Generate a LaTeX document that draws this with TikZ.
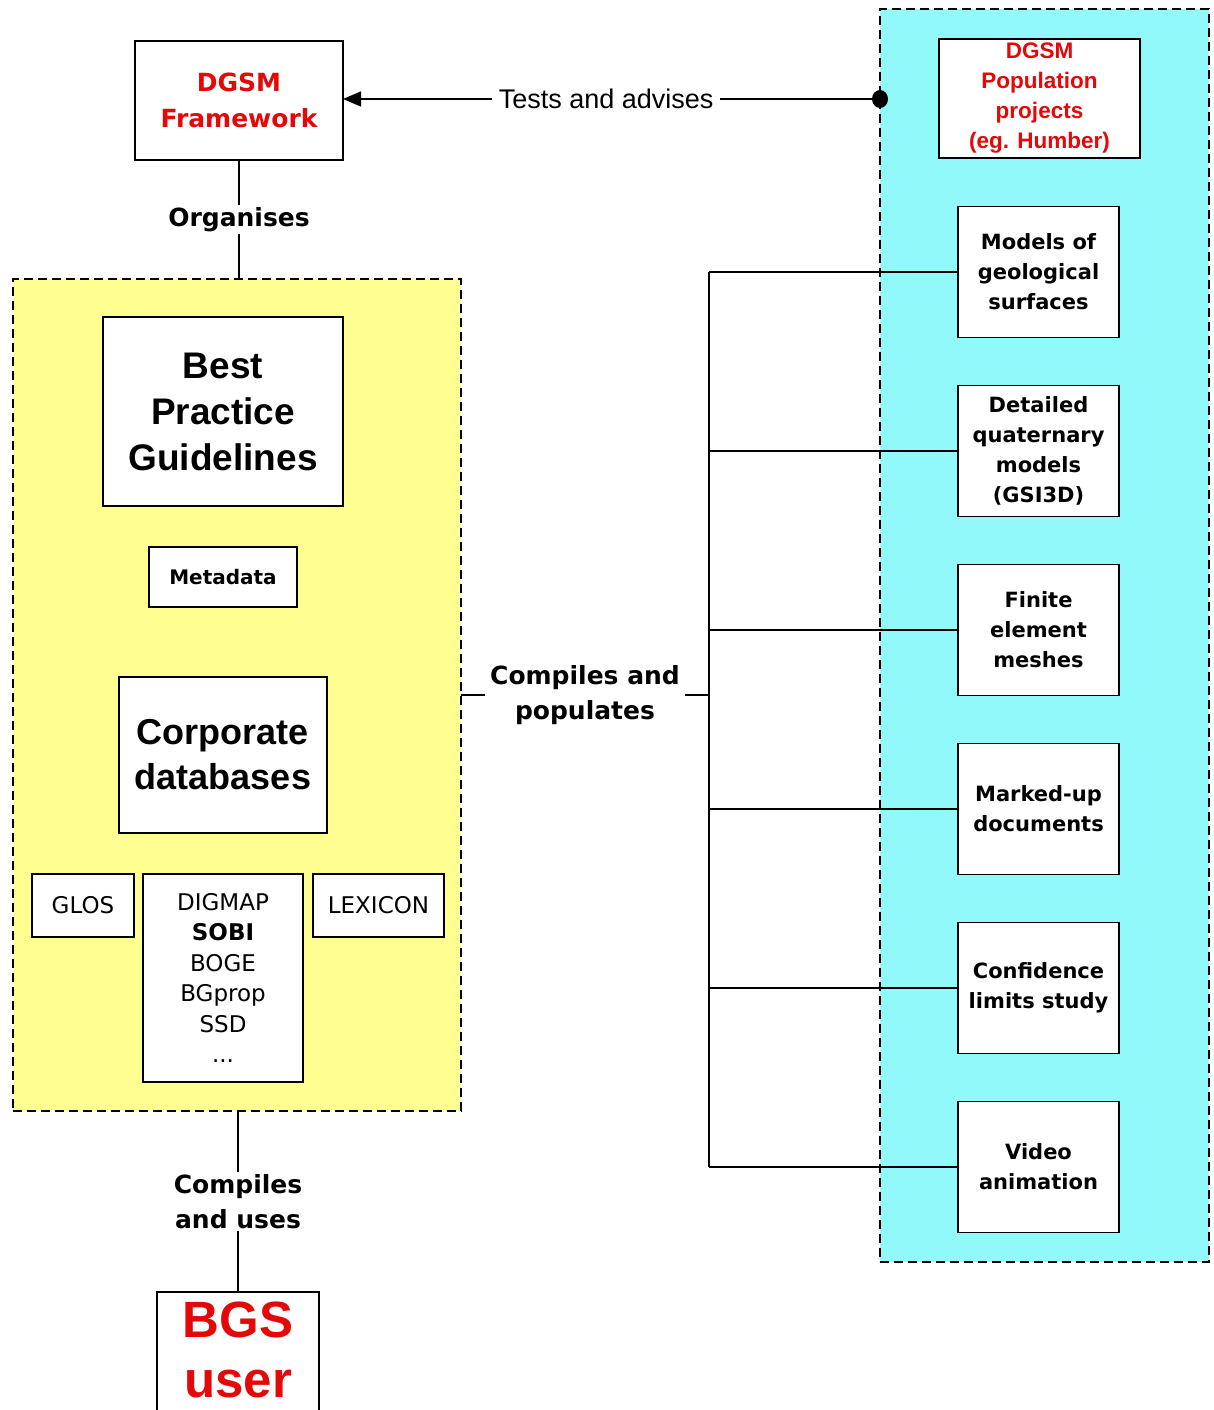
\documentclass[tikz,border=0pt]{standalone}
\usepackage{fontspec}
\usetikzlibrary{arrows.meta}
\newfontfamily\dv{DejaVu Sans}
\newfontfamily\ls{Liberation Sans}
\definecolor{regyellow}{RGB}{255,255,145}
\definecolor{regcyan}{RGB}{145,249,249}
\definecolor{dgsmred}{RGB}{228,8,8}
\tikzset{
  box/.style={draw, fill=white, line width=1.3pt, outer sep=0pt, inner sep=0pt, align=center},
  region/.style={draw, dash pattern=on 9pt off 5pt, line width=1.3pt, outer sep=0pt, inner sep=0pt},
  rbox/.style={box, minimum width=161pt, minimum height=131pt, font=\dv\bfseries\fontsize{21}{30}\selectfont},
  lbl/.style={fill=white, align=center, inner sep=2pt, font=\dv\bfseries\fontsize{25}{35}\selectfont},
  conn/.style={line width=1.5pt}
}
\begin{document}
\begin{tikzpicture}[x=1pt,y=-1pt]
\useasboundingbox (0,0) rectangle (1213,1410);
% regions
\node[region, fill=regyellow, minimum width=448pt, minimum height=832pt] (yr) at (237,695) {};
\node[region, fill=regcyan, minimum width=329pt, minimum height=1253pt] (cr) at (1044.5,635.5) {};
% top boxes
\node[box, minimum width=208pt, minimum height=119pt, text=dgsmred, font=\dv\bfseries\fontsize{25}{36}\selectfont] (fw) at (239,100.5) {DGSM\\Framework};
\node[box, minimum width=201pt, minimum height=119pt, text=dgsmred, font=\ls\bfseries\fontsize{22.5}{30}\selectfont] (pop) at (1039.5,98.5) {DGSM\\Population\\projects\\(eg. Humber)};
% yellow contents
\node[box, minimum width=240pt, minimum height=189pt, font=\ls\bfseries\fontsize{37}{46}\selectfont] (bpg) at (223,411.5) {Best\\Practice\\Guidelines};
\node[box, minimum width=148pt, minimum height=60pt, font=\dv\bfseries\fontsize{20}{24}\selectfont] (meta) at (223,577) {Metadata};
\node[box, minimum width=208pt, minimum height=156pt, font=\ls\bfseries\fontsize{36}{45}\selectfont] (corp) at (223,755) {Corporate\\databases};
\node[box, minimum width=102pt, minimum height=63pt, font=\dv\fontsize{23}{28}\selectfont] (glos) at (83,905.5) {GLOS};
\node[box, minimum width=160pt, minimum height=208pt, font=\dv\fontsize{23}{30.4}\selectfont] (dig) at (223,978) {DIGMAP\\\textbf{SOBI}\\BOGE\\BGprop\\SSD\\...};
\node[box, minimum width=131pt, minimum height=63pt, font=\dv\fontsize{23}{28}\selectfont] (lex) at (378.5,905.5) {LEXICON};
% right boxes
\node[rbox] (m1) at (1038.5,272) {Models of\\geological\\surfaces};
\node[rbox] (m2) at (1038.5,451) {Detailed\\quaternary\\models\\(GSI3D)};
\node[rbox] (m3) at (1038.5,630) {Finite\\element\\meshes};
\node[rbox] (m4) at (1038.5,809) {Marked-up\\documents};
\node[rbox] (m5) at (1038.5,988) {Confidence\\limits study};
\node[rbox] (m6) at (1038.5,1167) {Video\\animation};
% BGS user
\node[box, minimum width=162pt, minimum height=150pt, anchor=north] (bgs) at (238,1292) {};
\node[text=dgsmred, align=center, font=\ls\bfseries\fontsize{51}{60}\selectfont] (bgstext) at (238,1350) {BGS\\user};
% connectors
\coordinate (dot) at (880,99);
\draw[conn, -{Triangle[length=18pt,width=15pt]}] (dot) -- node[pos=0.51, fill=white, inner xsep=7pt, inner ysep=3pt, font=\ls\fontsize{27}{32}\selectfont] (tests) {Tests and advises} (fw.east |- dot);
\fill (dot) ellipse (8pt and 9pt);
\draw[conn] (fw.south) -- node[lbl] (org) {Organises} (fw.south |- yr.north);
\draw[conn] (yr.south -| bgs.north) -- node[lbl] (cu) {Compiles\\and uses} (bgs.north);
\coordinate (bustop) at (709,272);
\coordinate (busbot) at (709,1167);
\draw[conn] (bustop) -- (busbot);
\draw[conn] (yr.east) -- node[lbl, inner xsep=5pt] (cp) {Compiles and\\populates} (yr.east -| bustop);
\foreach \m in {m1,m2,m3,m4,m5,m6} {
  \draw[conn] (bustop |- \m.west) -- (\m.west);
}
\end{tikzpicture}
\end{document}
